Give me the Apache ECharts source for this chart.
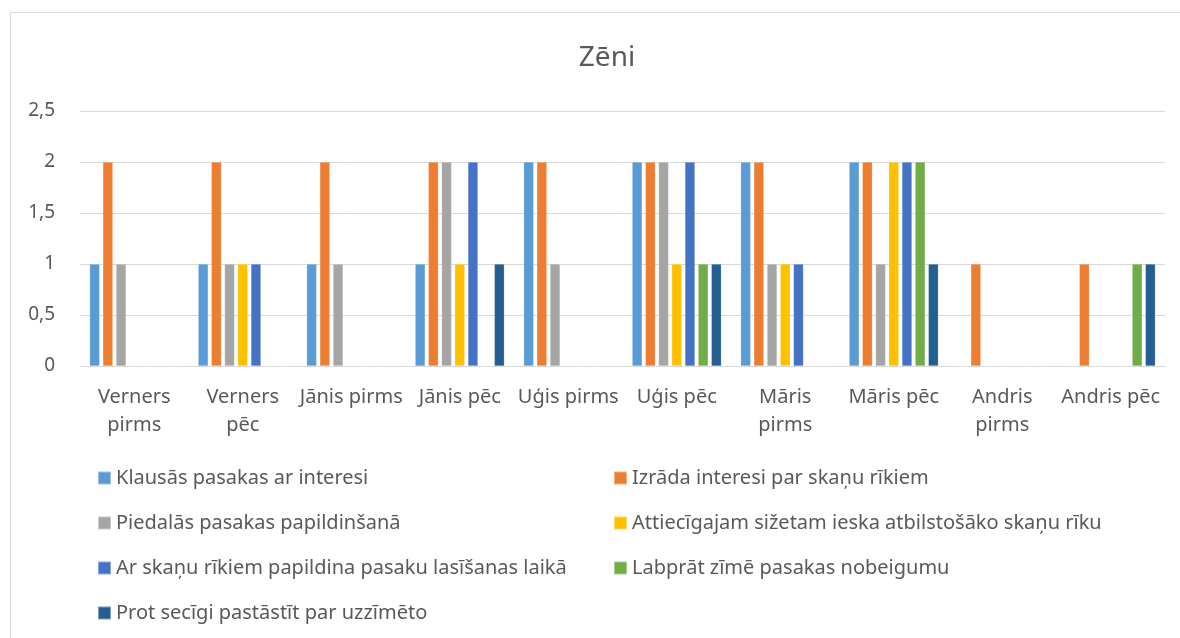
<!DOCTYPE html>
<html>
<head>
<meta charset="utf-8">
<script src="https://cdn.jsdelivr.net/npm/echarts@6/dist/echarts.min.js"></script>
<style>
  html, body { margin: 0; padding: 0; background: #fff; }
  #main { width: 1180px; height: 638px; }
</style>
</head>
<body>
<div id="main"></div>
<script>
// kategorijas
const categories = ['Verners pirms', 'Verners pēc', 'Jānis pirms', 'Jānis pēc', 'Uģis pirms',
  'Uģis pēc', 'Māris pirms', 'Māris pēc', 'Andris pirms', 'Andris pēc']
// etiķetes, kas Excel attēlā pārlauztas divās rindās
const wrapped = ['Verners pirms', 'Verners pēc', 'Māris pirms', 'Andris pirms']

const seriesNames = [
  'Klausās pasakas ar interesi',
  'Izrāda interesi par skaņu rīkiem',
  'Piedalās pasakas papildinšanā',
  'Attiecīgajam sižetam ieska atbilstošāko skaņu rīku',
  'Ar skaņu rīkiem papildina pasaku lasīšanas laikā',
  'Labprāt zīmē pasakas nobeigumu',
  'Prot secīgi pastāstīt par uzzīmēto',
]
const klausas = [1, 1, 1, 1, 2, 2, 2, 2, 0, 0]
const izrada = [2, 2, 2, 2, 2, 2, 2, 2, 1, 1]
const piedalas = [1, 1, 1, 2, 1, 2, 1, 1, 0, 0]
const attiecigajam = [0, 1, 0, 1, 0, 1, 1, 2, 0, 0]
const arSkanu = [0, 1, 0, 2, 0, 2, 1, 2, 0, 0]
const labprat = [0, 0, 0, 0, 0, 1, 0, 2, 0, 1]
const prot = [0, 0, 0, 1, 0, 1, 0, 1, 0, 1]
const seriesValues = [klausas, izrada, piedalas, attiecigajam, arSkanu, labprat, prot]

const colors = ['#5B9BD5', '#ED7D31', '#A5A5A5', '#FFC000', '#4472C4', '#70AD47', '#255E91']
const textColor = '#595959'
const font = 'Noto Sans'

let myChart = echarts.init(document.getElementById('main'))

const legendBase = {
  orient: 'vertical',
  top: 463,
  itemGap: 25,
  itemWidth: 13,
  itemHeight: 13,
  icon: 'rect',
  textStyle: { color: textColor, fontSize: 20, fontFamily: font },
}

let option = {
  color: colors,
  animation: false,
  title: {
    text: 'Zēni',
    left: 602,
    textAlign: 'center',
    top: 39,
    textStyle: { color: textColor, fontSize: 28, fontWeight: 'normal', fontFamily: font },
  },
  // rāmis ap diagrammu
  graphic: [
    {
      type: 'rect',
      shape: { x: 10.5, y: 12.5, width: 1200, height: 700 },
      style: { fill: 'none', stroke: '#D9D9D9', lineWidth: 1 },
      silent: true,
    },
  ],
  legend: [
    Object.assign({}, legendBase, {
      data: [seriesNames[0], seriesNames[2], seriesNames[4], seriesNames[6]],
      left: 92,
    }),
    Object.assign({}, legendBase, {
      data: [seriesNames[1], seriesNames[3], seriesNames[5]],
      left: 608,
    }),
  ],
  grid: { left: 80, right: 15, top: 111, bottom: 272 },
  xAxis: {
    type: 'category',
    data: categories,
    axisLine: { lineStyle: { color: '#D9D9D9' } },
    axisTick: { show: false },
    axisLabel: {
      color: textColor,
      fontSize: 20,
      fontFamily: font,
      margin: 17,
      interval: 0,
      lineHeight: 28,
      formatter: function (v) {
        return wrapped.indexOf(v) >= 0 ? v.replace(' ', '\n') : v
      },
    },
  },
  yAxis: {
    type: 'value',
    min: 0,
    max: 2.5,
    interval: 0.5,
    axisLine: { show: false },
    axisTick: { show: false },
    splitLine: { lineStyle: { color: '#D9D9D9', width: 1 } },
    axisLabel: {
      color: textColor,
      fontSize: 19,
      fontFamily: font,
      margin: 25,
      formatter: function (v) {
        return String(v).replace('.', ',')
      },
    },
  },
  series: seriesNames.map(function (name, i) {
    return {
      name: name,
      type: 'bar',
      data: seriesValues[i],
      barWidth: 10,
      barGap: '32%',
      itemStyle: { borderColor: 'rgba(255,255,255,0.4)', borderWidth: 0.5 },
    }
  }),
}

myChart.setOption(option)
window.addEventListener('resize', function () {
  myChart.resize()
})
</script>
</body>
</html>
